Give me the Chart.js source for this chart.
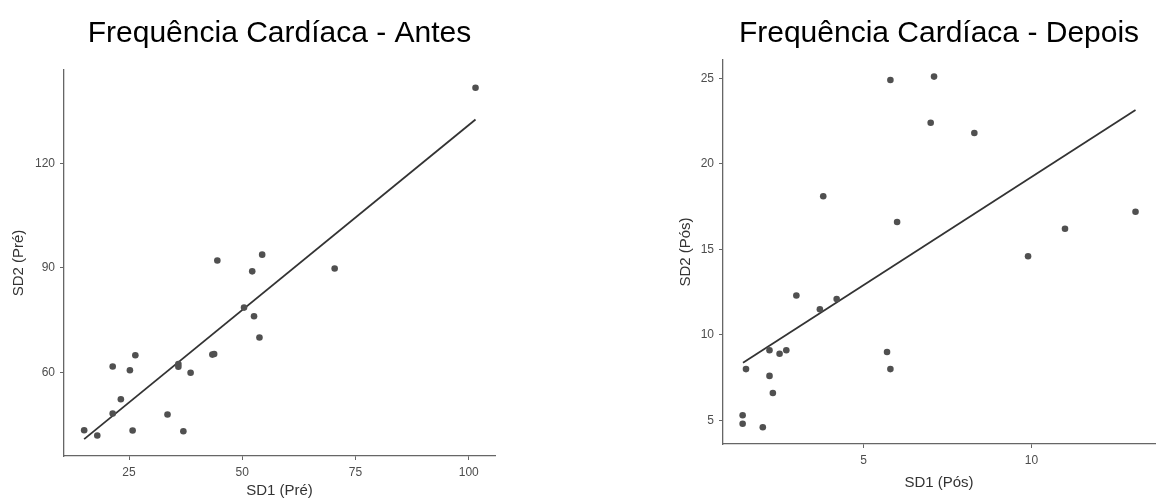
<!DOCTYPE html>
<html lang="pt">
<head>
<meta charset="utf-8">
<title>Frequência Cardíaca</title>
<script src="https://cdn.jsdelivr.net/npm/chart.js@4/dist/chart.umd.min.js"></script>
<style>
	html, body {
		margin: 0;
		padding: 0;
		background: #ffffff;
	}
	.panel {
		position: absolute;
		top: 0;
	}
</style>
</head>
<body>
<canvas id="antes" class="panel" width="540" height="501" style="left: 0px;"></canvas>
<canvas id="depois" class="panel" width="499" height="501" style="left: 660px;"></canvas>
<script>
// SD1 / SD2 antes (pré)
const sd1Antes = [15.1, 18.0, 21.4, 21.4, 23.2, 25.2, 25.8, 26.4, 33.5, 35.9, 35.9, 37.0, 38.6, 43.4, 43.8, 44.5, 50.4, 52.2, 52.6, 53.8, 54.4, 70.4, 101.5];
const sd2Antes = [43.4, 41.9, 61.7, 48.2, 52.3, 60.6, 43.3, 64.9, 47.9, 62.4, 61.6, 43.1, 59.9, 65.1, 65.3, 92.1, 78.6, 89.0, 76.1, 70.0, 93.8, 89.8, 141.7];
const fitAntesX = [15.1, 101.5];
const fitAntesY = [40.85, 132.6];
const xTicksAntes = [25, 50, 75, 100];
const yTicksAntes = [60, 90, 120];

// SD1 / SD2 depois (pós)
const sd1Depois = [1.4, 1.4, 1.5, 2.0, 2.2, 2.2, 2.3, 2.5, 2.7, 3.0, 3.7, 3.8, 4.2, 5.7, 5.8, 5.8, 6.0, 7.0, 7.1, 8.3, 9.9, 11.0, 13.1];
const sd2Depois = [5.3, 4.8, 8.0, 4.6, 9.1, 7.6, 6.6, 8.9, 9.1, 12.3, 11.5, 18.1, 12.1, 9.0, 8.0, 24.9, 16.6, 22.4, 25.1, 21.8, 14.6, 16.2, 17.2];
const fitDepoisX = [1.41, 13.1];
const fitDepoisY = [8.37, 23.14];
const xTicksDepois = [5, 10];
const yTicksDepois = [5, 10, 15, 20, 25];

const fontFamily = "'Liberation Sans', Arial, sans-serif";
const axisColor = "#666666";

function toPoints(xs, ys) {
	return xs.map((x, i) => ({ x: x, y: ys[i] }));
}

function axis(ticks, range, title, size) {
	return {
		type: "linear",
		min: range[0],
		max: range[1],
		afterBuildTicks: scale => {
			scale.ticks = ticks.map(v => ({ value: v }));
		},
		afterFit: scale => {
			if (scale.isHorizontal()) {
				scale.height = size;
			}
			else {
				scale.width = size;
			}
		},
		grid: {
			display: true,
			drawOnChartArea: false,
			drawTicks: true,
			tickLength: 4,
			tickColor: axisColor,
			tickWidth: 1
		},
		border: {
			display: true,
			color: axisColor,
			width: 1.3
		},
		ticks: {
			padding: 5,
			color: "#4d4d4d",
			font: { family: fontFamily, size: 12 }
		},
		title: {
			display: true,
			text: title,
			color: "#333333",
			padding: 0,
			font: { family: fontFamily, size: 15 }
		}
	};
}

function createScatter(id, setup) {
	const context = document.getElementById(id).getContext("2d");
	const options = {
		data: {
			datasets: [
				{
					type: "scatter",
					data: toPoints(setup.xs, setup.ys),
					backgroundColor: "#505050",
					borderWidth: 0,
					pointRadius: 3.3
				},
				{
					type: "line",
					data: toPoints(setup.fitX, setup.fitY),
					borderColor: "#333333",
					borderWidth: 1.8,
					pointRadius: 0,
					fill: false
				}
			]
		},
		options: {
			responsive: false,
			animation: false,
			layout: {
				padding: setup.padding
			},
			plugins: {
				legend: { display: false },
				tooltip: { enabled: false },
				title: {
					display: true,
					text: setup.title,
					fullSize: false,
					color: "#000000",
					font: { family: fontFamily, size: 30, weight: "normal" },
					padding: setup.titlePadding
				}
			},
			scales: {
				x: axis(setup.xTicks, setup.xRange, setup.xTitle, setup.xSize),
				y: axis(setup.yTicks, setup.yRange, setup.yTitle, setup.ySize)
			}
		}
	};
	return new Chart(context, options);
}

createScatter("antes", {
	title: "Frequência Cardíaca - Antes",
	xs: sd1Antes,
	ys: sd2Antes,
	fitX: fitAntesX,
	fitY: fitAntesY,
	xTicks: xTicksAntes,
	yTicks: yTicksAntes,
	xRange: [10.65, 105.8],
	yRange: [36.0, 146.8],
	xTitle: "SD1 (Pré)",
	yTitle: "SD2 (Pré)",
	xSize: 44,
	ySize: 54,
	padding: { left: 10, right: 45, top: 0, bottom: 1 },
	titlePadding: { top: 16, bottom: 18 }
});

createScatter("depois", {
	title: "Frequência Cardíaca - Depois",
	xs: sd1Depois,
	ys: sd2Depois,
	fitX: fitDepoisX,
	fitY: fitDepoisY,
	xTicks: xTicksDepois,
	yTicks: yTicksDepois,
	xRange: [0.815, 13.68],
	yRange: [3.62, 26.07],
	xTitle: "SD1 (Pós)",
	yTitle: "SD2 (Pós)",
	xSize: 48,
	ySize: 46,
	padding: { left: 17, right: 0, top: 0, bottom: 9 },
	titlePadding: { top: 16, bottom: 8 }
});
</script>
</body>
</html>
